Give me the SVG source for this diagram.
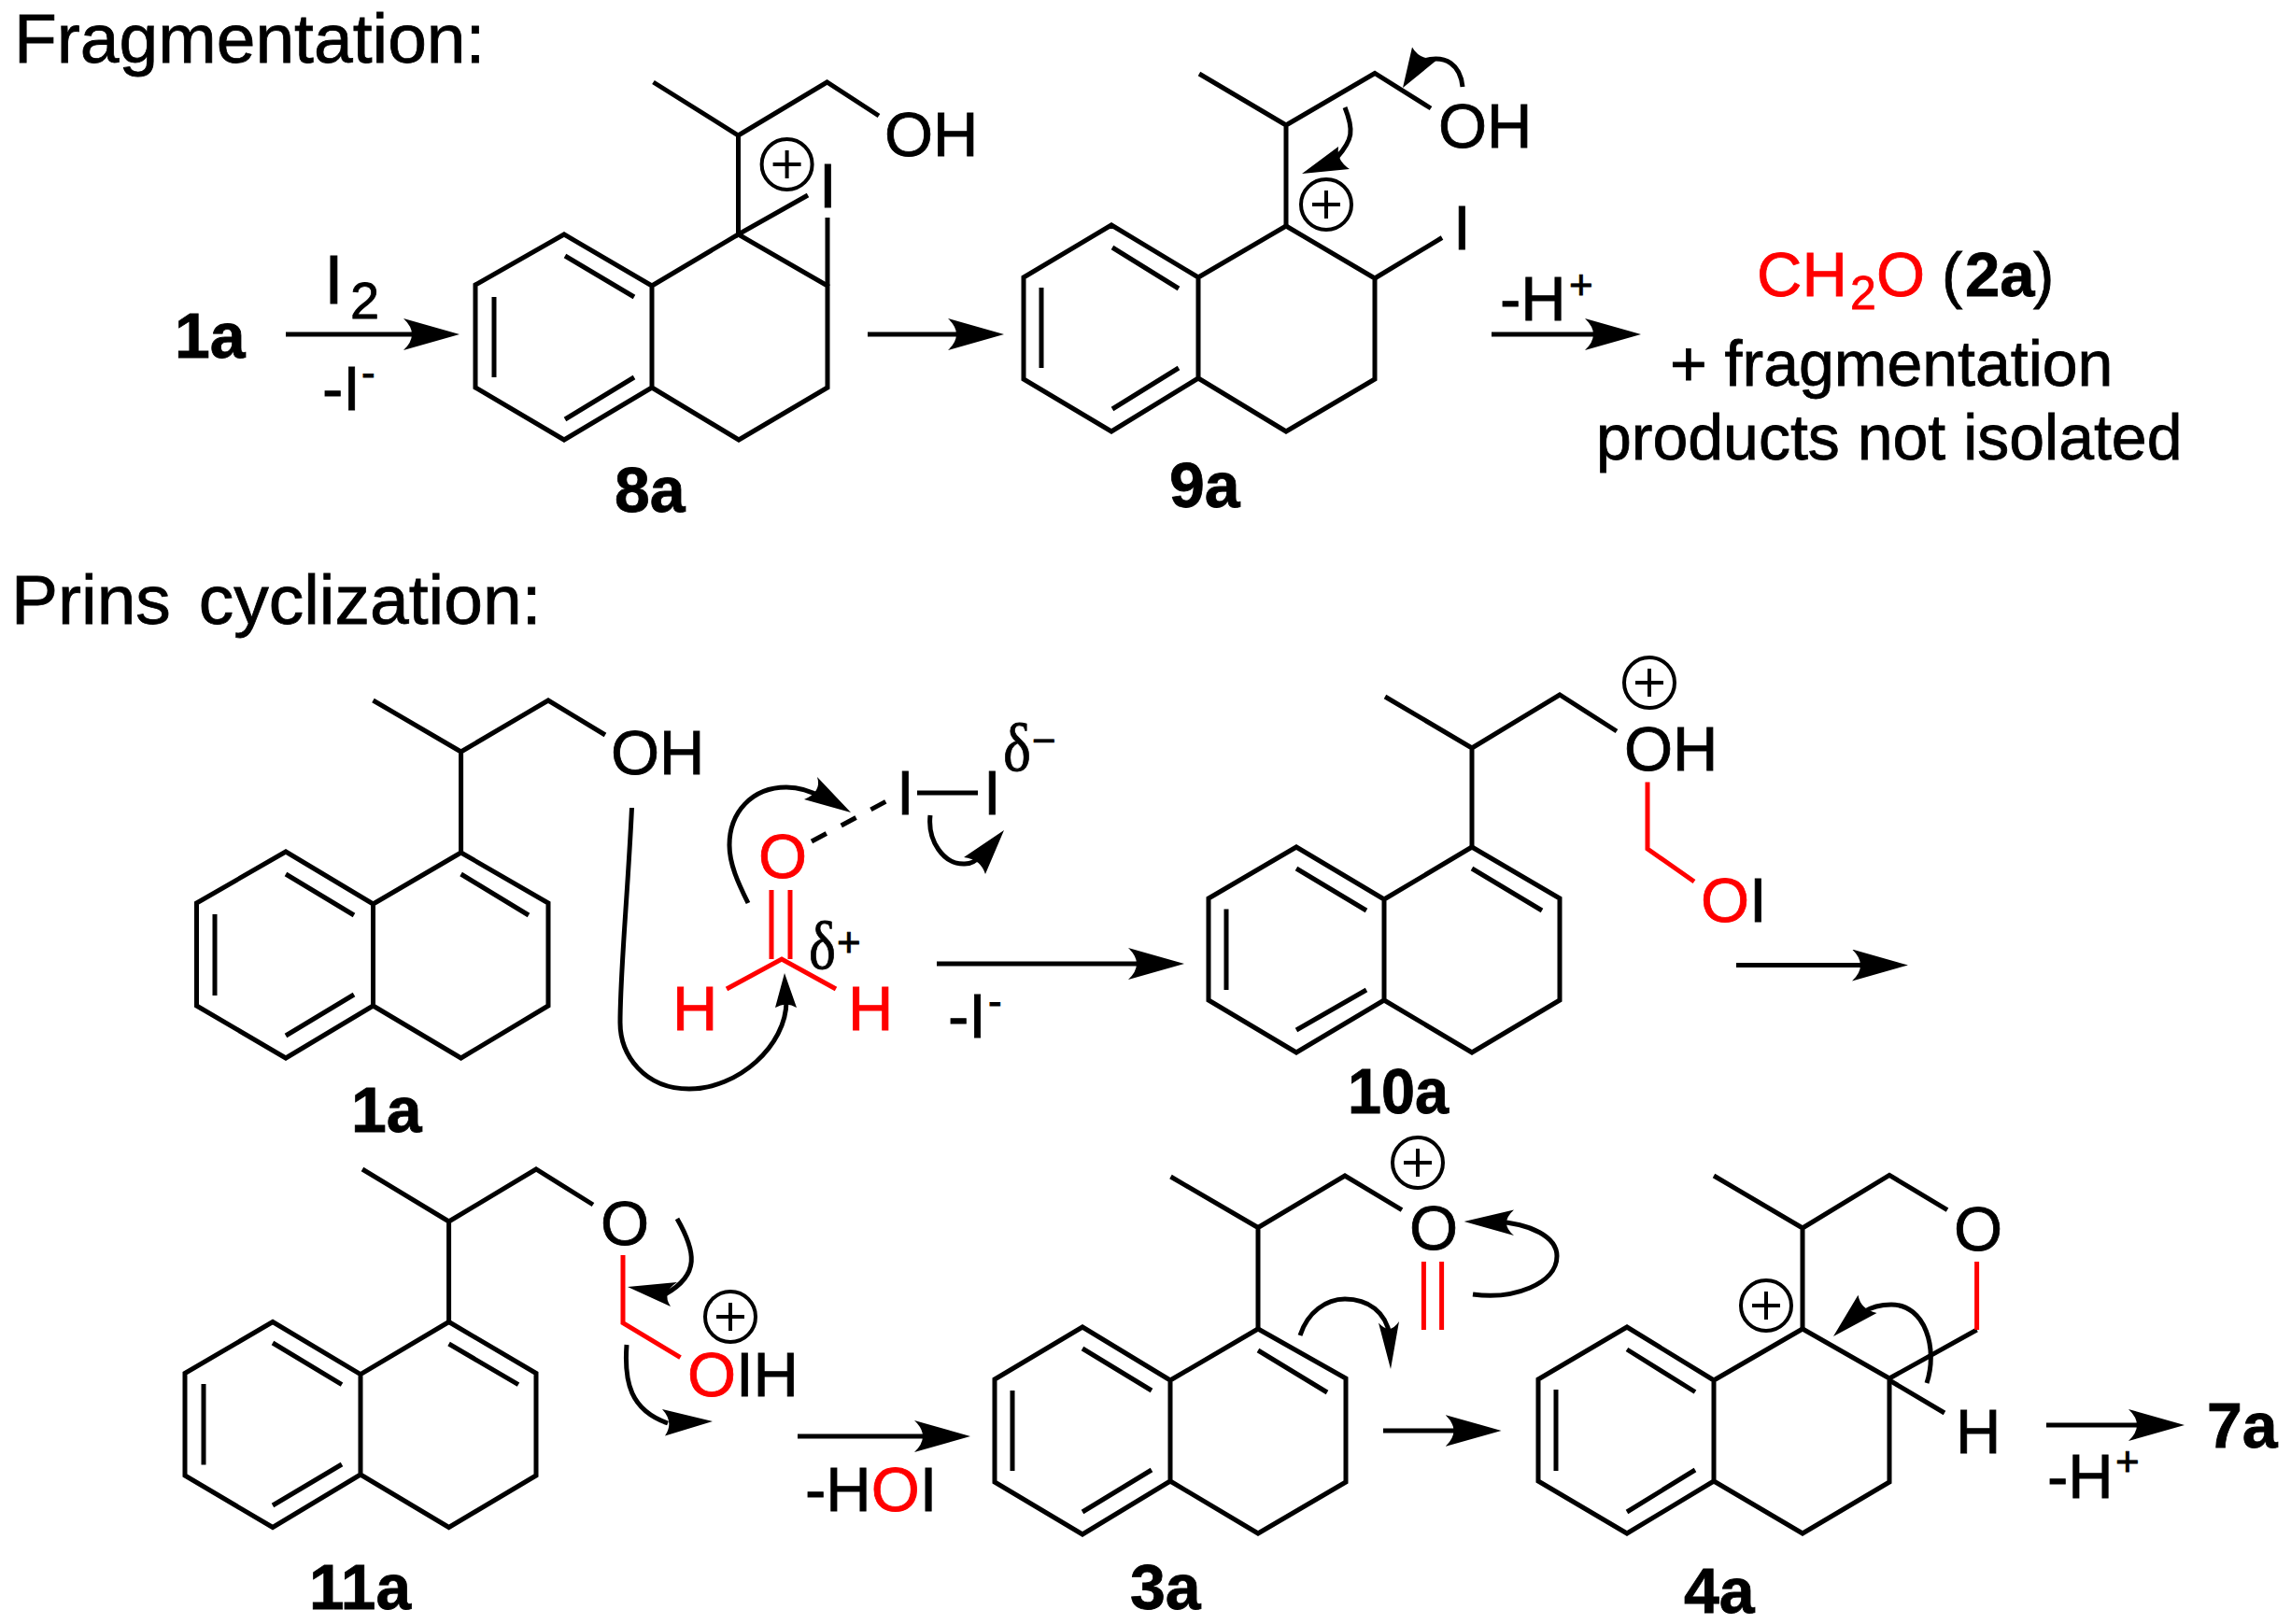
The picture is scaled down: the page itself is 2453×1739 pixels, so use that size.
<svg xmlns="http://www.w3.org/2000/svg" width="2453" height="1739" viewBox="0 0 2453 1739">
<style>
.b{fill:none;stroke:#000;stroke-width:5;stroke-linejoin:miter;stroke-miterlimit:6}
.r{fill:none;stroke:#f00;stroke-width:5}
.c{fill:none;stroke:#000;stroke-width:5}
.h{fill:#000;stroke:none}
.p{fill:none;stroke:#000;stroke-width:4}
text{font-family:"Liberation Sans",Arial,sans-serif;font-size:67px;fill:#000;stroke:#000;stroke-width:.8}
.t{font-size:75px}
.l{font-size:68px;font-weight:bold}
.s{font-size:44px}
.w{font-size:68px}
.red{fill:#f00;stroke:#f00}
.g{font-family:"Liberation Serif","DejaVu Serif",serif;font-size:72px}
</style>
<defs>
<marker id="ah" markerUnits="userSpaceOnUse" markerWidth="62" markerHeight="36" refX="12" refY="17" orient="auto">
<path d="M60,17 L0,0 Q18,17 0,34 Z" fill="#000"/>
</marker>
<g id="plus"><circle r="27" class="p"/><path d="M-15,0H15M0,-15V15" class="p"/></g>
</defs>
<rect width="2453" height="1739" fill="#fff"/>

<g id="titles">
<text class="t" x="15" y="67">Fragmentation:</text>
<text class="t" x="12" y="668" word-spacing="9">Prins cyclization:</text>
</g>

<g id="node-1a-top"><text class="l" x="187" y="383">1a</text></g>
<g id="reagent-i2">
<text class="t" x="347" y="325">I</text><text x="375" y="341" style="font-size:56px">2</text>
<text x="345" y="439">-I</text><text class="s" x="387" y="414">-</text>
</g>

<g id="node-8a">
<path class="b" d="M604,251L698,306V415L604,471L509,415V305ZM698,306L790.5,251L886,306V415L791,471L698,415M605,274L679,318M679,404L605,449M529,318V404"/>
<path class="b" d="M699.5,88L790.5,145L885.5,88L941,124M790.5,145V251L865,209M886,233V306"/>
<use href="#plus" x="842.6" y="176"/>
<text x="877" y="222">I</text>
<text x="947" y="167">OH</text>
<text class="l" x="658" y="548">8a</text>
</g>

<g id="node-9a">
<path class="b" d="M1190,241L1283,297V405L1190,462L1096,406V297ZM1283,297L1377,242L1472,298V406L1377,462L1283,405M1191,265L1262,309M1262,394L1191,438M1115,308V394"/>
<path class="b" d="M1284,79L1377,134L1472,78.5L1532,116M1377,134V242M1472,298L1544,254.5"/>
<use href="#plus" x="1420" y="219"/>
<text x="1556" y="267">I</text>
<text x="1540" y="158">OH</text>
<text class="l" x="1252" y="543">9a</text>
</g>

<g id="reagent-h-1">
<text x="1606" y="343">-H</text><text class="s" x="1680" y="320">+</text>
</g>

<g id="node-2a">
<text class="red" x="1881" y="317">CH</text><text class="red" x="1981" y="331" style="font-size:50px">2</text><text class="red" x="2009" y="317">O</text>
<text x="2079" y="317">(</text><text x="2104" y="317" font-weight="bold">2a</text><text x="2177" y="317">)</text>
<text class="w" x="1788" y="413">+ fragmentation</text>
<text class="w" x="1709" y="492">products not isolated</text>
</g>

<g id="node-1a">
<path class="b" d="M306,912L399.5,968V1077L306,1133L210.5,1077V967ZM399.5,968L493.6,913L587,967V1077L493.6,1133L399.5,1077M306,936L379,980M379,1065L306,1109M230,979V1066M493.6,936L566,980"/>
<path class="b" d="M399.5,750L493.6,805L587,750L648,787M493.6,805V913"/>
<text x="654" y="829">OH</text>
<text class="l" x="376" y="1212">1a</text>
</g>

<g id="node-ch2o">
<path class="r" d="M826,953V1027M846,953V1027M778,1059L837,1027L895,1059"/>
<text class="red" x="812" y="940">O</text>
<text class="red" x="720" y="1103">H</text>
<text class="red" x="908" y="1103">H</text>
<text class="g" x="866" y="1037" textLength="29" lengthAdjust="spacingAndGlyphs">δ</text><text class="s" x="896" y="1024">+</text>
</g>

<g id="node-i2">
<path class="b" d="M869,901L949,858" stroke-dasharray="18 18"/>
<path class="b" d="M982,849H1047"/>
<text x="960" y="872">I</text>
<text x="1053" y="872">I</text>
<text class="g" x="1074" y="825" textLength="30" lengthAdjust="spacingAndGlyphs">δ</text><text class="s" x="1105" y="808">−</text>
</g>

<g id="reagent-i-2"><text x="1015" y="1111">-I</text><text class="s" x="1058" y="1087">-</text></g>

<g id="node-10a">
<path class="b" d="M1388,907L1482,963V1071L1388,1127L1294,1071V962ZM1482,963L1576,907L1670,962V1071L1576,1127L1482,1071M1388,930L1463,975M1463,1060L1388,1103M1313,973.5V1060M1576,930L1651,975"/>
<path class="b" d="M1483,746L1576,801L1670,744L1731,783M1576,801V907"/>
<path class="r" d="M1764,837.5V909L1814,944"/>
<use href="#plus" x="1766" y="731"/>
<text x="1739" y="825">OH</text>
<text class="red" x="1821" y="987">O</text><text x="1873" y="987">I</text>
<text class="l" x="1443" y="1192" textLength="108" lengthAdjust="spacingAndGlyphs">10a</text>
</g>

<g id="node-11a">
<path class="b" d="M292,1415.5L386,1471.6V1579L292,1635.5L198,1580V1470.5ZM386,1471.6L480.6,1415.5L574,1470.5V1580L480.6,1635.5L386,1579M292,1438L366,1482.6M366,1568L292,1612M218,1482V1568.5M480.6,1439L555,1482.6"/>
<path class="b" d="M388,1252L480.6,1308L574,1252L635,1290M480.6,1308V1415.5"/>
<path class="r" d="M667,1344V1416.6L728.5,1453.7"/>
<use href="#plus" x="782" y="1410"/>
<text x="643" y="1333">O</text>
<text class="red" x="736" y="1495">O</text><text x="788" y="1495">IH</text>
<text class="l" x="331" y="1723" textLength="109" lengthAdjust="spacingAndGlyphs">11a</text>
</g>

<g id="reagent-hoi">
<text x="862" y="1618">-H</text><text class="red" x="932.7" y="1618">O</text><text x="984.7" y="1618">I</text>
</g>

<g id="node-3a">
<path class="b" d="M1159,1421L1253,1478V1586L1159,1643L1065,1587V1477ZM1253,1478L1347,1423L1441,1476V1587L1347,1642L1253,1586M1159,1444L1233,1489M1233,1574L1159,1619M1084,1489V1575M1347,1446L1421,1491"/>
<path class="b" d="M1253.5,1260L1347,1314.5L1440,1259L1501,1295.6M1347,1314.5V1423"/>
<path class="r" d="M1524.4,1351V1424M1543.6,1351V1424"/>
<use href="#plus" x="1518" y="1245"/>
<text x="1509" y="1338">O</text>
<text class="l" x="1210" y="1723">3a</text>
</g>

<g id="node-4a">
<path class="b" d="M1742,1421L1835,1478V1586L1742,1642L1647,1586V1477ZM1835,1478L1930,1423L2023,1476V1587L1930,1642L1835,1586M1742,1445L1815,1490.5M1815,1574L1742,1619M1666,1488V1575"/>
<path class="b" d="M1835,1259L1930,1315L2023,1258.4L2085,1295.6M1930,1315V1423M2023,1476L2116.6,1424M2023,1478L2082,1513"/>
<path class="r" d="M2116.6,1351V1424"/>
<use href="#plus" x="1891" y="1398"/>
<text x="2092" y="1339">O</text>
<text x="2094" y="1556">H</text>
<text class="l" x="1803" y="1727">4a</text>
</g>

<g id="reagent-h-2"><text x="2192" y="1604">-H</text><text class="s" x="2265" y="1580">+</text></g>
<g id="node-7a"><text class="l" x="2363" y="1550">7a</text></g>

<g id="connectors">
<path class="b" marker-end="url(#ah)" d="M306,358H444"/>
<path class="b" marker-end="url(#ah)" d="M929,358H1027"/>
<path class="b" marker-end="url(#ah)" d="M1597,358H1709"/>
<path class="b" marker-end="url(#ah)" d="M1003,1032H1220"/>
<path class="b" marker-end="url(#ah)" d="M1859,1033.5H1995"/>
<path class="b" marker-end="url(#ah)" d="M854,1538H991"/>
<path class="b" marker-end="url(#ah)" d="M1481,1532H1559.5"/>
<path class="b" marker-end="url(#ah)" d="M2191,1526H2291"/>
<path class="c" d="M1440,115C1450,140 1448,150 1432,168"/>
<path class="h" d="M1394,186L1433,157Q1431,172 1445,181Z"/>
<path class="c" d="M1566,93C1564,72 1550,55 1518,67"/>
<path class="h" d="M1502,94L1512,50.5Q1520,65 1540,63Z"/>
<path class="c" d="M676.5,865C672,960 664,1040 664,1095C664,1130 690,1166 738,1166C790,1166 842,1120 842,1072"/>
<path class="h" d="M840,1042L830,1079Q842,1072 853,1079Z"/>
<path class="c" d="M801,967C790,945 781,925 781,905C781,870 805,843 842,843C858,843 870,848 880,854"/>
<path class="h" d="M911,870L875,832Q880,848 861,856Z"/>
<path class="c" d="M996,873C993,900 1010,926 1033,925C1040,925 1045,922 1049,917"/>
<path class="h" d="M1075,889L1055,936Q1050,920 1032,918Z"/>
<path class="c" d="M725,1305C745,1340 750,1365 712,1386"/>
<path class="h" d="M672,1378L725,1373Q708,1384 718,1399Z"/>
<path class="c" d="M671,1440C668,1480 675,1510 715,1524"/>
<path class="h" d="M763,1522L709,1509Q722,1523 712,1537.5Z"/>
<path class="c" d="M1577,1386C1620,1392 1667,1375 1667,1345C1667,1325 1640,1310 1600,1308"/>
<path class="h" d="M1567.6,1308L1621,1295.6Q1605,1310 1621,1323Z"/>
<path class="c" d="M1392,1430C1400,1405 1420,1391 1440,1391C1465,1391 1484,1405 1488,1430"/>
<path class="h" d="M1489,1466L1476,1416.5Q1488,1430 1498,1415Z"/>
<path class="c" d="M2063,1481C2075,1445 2062,1397 2025,1397C2012,1397 2003,1400 1995,1405"/>
<path class="h" d="M1963,1431L1989.5,1386.7Q1992,1402 2009.5,1406Z"/>
</g>
</svg>
